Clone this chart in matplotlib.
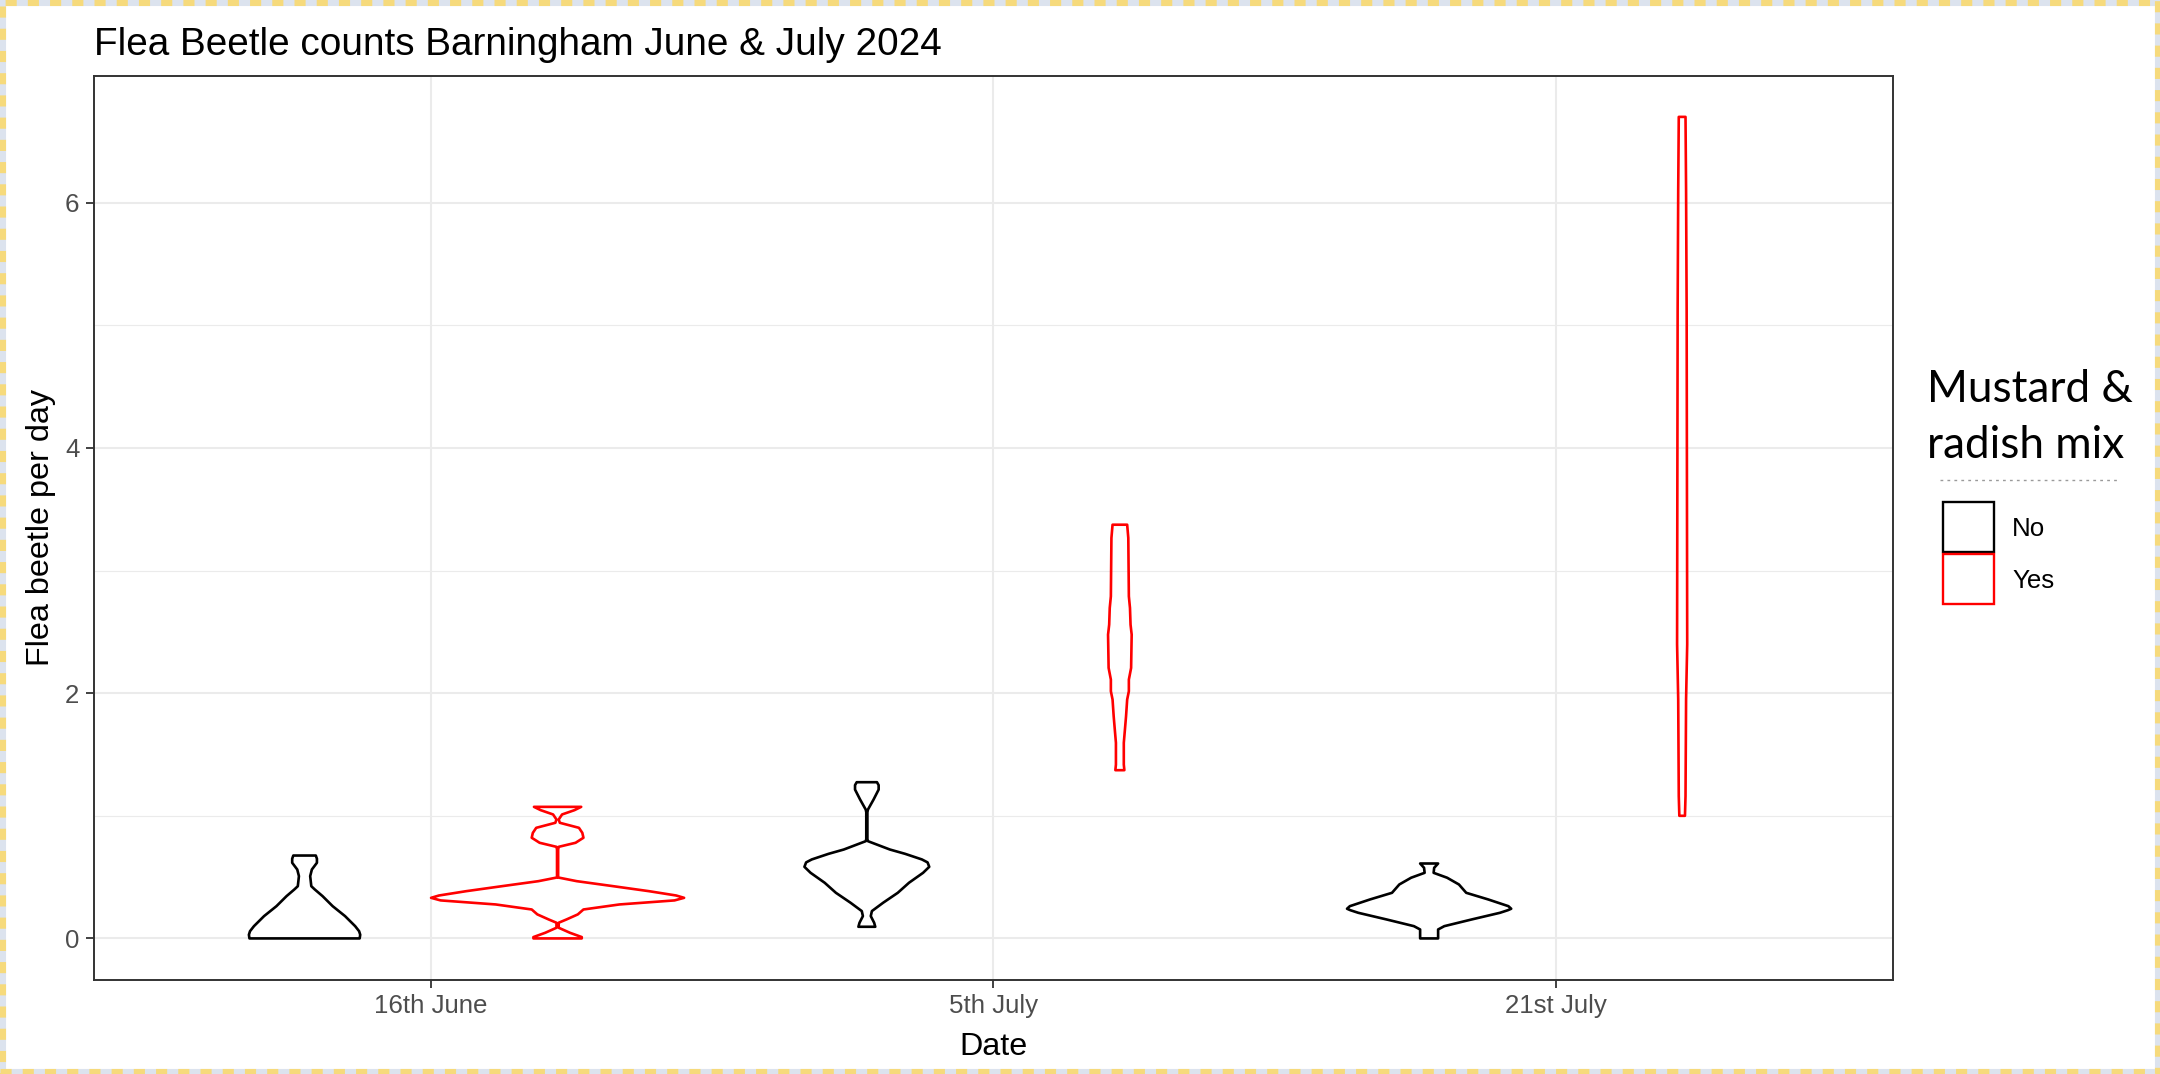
import matplotlib
matplotlib.use("Agg")
import matplotlib.pyplot as plt
from matplotlib.patches import Rectangle
from matplotlib.lines import Line2D
import numpy as np

# ---------------- data ----------------
dates = ["16th June", "5th July", "21st July"]
groups = ["No", "Yes"]
group_colors = {"No": "black", "Yes": "#FF0000"}
legend_title = ["Mustard &", "radish mix"]

# violin profiles: y levels and half-widths (x-axis units)
june16_no_y = [0.0, 0.030, 0.059, 0.100, 0.182, 0.263, 0.345, 0.400, 0.426, 0.508, 0.562, 0.617, 0.650, 0.676]
june16_no_w = [0.098, 0.099, 0.097, 0.090, 0.072, 0.050, 0.032, 0.018, 0.012, 0.010, 0.013, 0.022, 0.022, 0.020]

june16_yes_y = [0.0, 0.011, 0.046, 0.087, 0.128, 0.155, 0.196, 0.236, 0.277, 0.310, 0.331,
                0.350, 0.385, 0.426, 0.467, 0.497, 0.725, 0.747, 0.780, 0.821, 0.861,
                0.902, 0.943, 0.970, 1.011, 1.046, 1.073]
june16_yes_w = [0.043, 0.043, 0.022, 0.002, 0.002, 0.016, 0.036, 0.046, 0.110, 0.208, 0.225,
                0.211, 0.163, 0.099, 0.034, 0.001, 0.001, 0.002, 0.032, 0.046, 0.044,
                0.038, 0.004, 0.002, 0.008, 0.030, 0.042]

july5_no_y = [0.095, 0.128, 0.182, 0.223, 0.291, 0.372, 0.454, 0.535, 0.584, 0.620, 0.644, 0.690, 0.725,
              0.793, 0.810, 1.030, 1.051, 1.133, 1.214, 1.250, 1.274]
july5_no_w = [0.015, 0.013, 0.007, 0.009, 0.029, 0.055, 0.075, 0.100, 0.111, 0.108, 0.098, 0.068, 0.041,
              0.002, 0.001, 0.001, 0.002, 0.012, 0.021, 0.021, 0.018]

july5_yes_y = [1.372, 1.418, 1.595, 1.703, 1.812, 1.948, 2.016, 2.111, 2.206, 2.478, 2.559,
               2.695, 2.790, 3.266, 3.374]
july5_yes_w = [0.008, 0.007, 0.007, 0.009, 0.011, 0.013, 0.016, 0.016, 0.020, 0.021, 0.019,
               0.018, 0.016, 0.015, 0.013]

july21_no_y = [0.0, 0.073, 0.100, 0.155, 0.209, 0.230, 0.242, 0.263, 0.318, 0.372, 0.440, 0.495,
               0.535, 0.576, 0.611]
july21_no_w = [0.016, 0.016, 0.027, 0.076, 0.126, 0.140, 0.146, 0.141, 0.105, 0.066, 0.053, 0.032,
               0.008, 0.009, 0.016]

july21_yes_y = [1.0, 1.16, 1.95, 2.40, 5.13, 6.10, 6.70]
july21_yes_w = [0.005, 0.006, 0.007, 0.009, 0.008, 0.007, 0.006]

violins = [
    ("16th June", "No", june16_no_y, june16_no_w),
    ("16th June", "Yes", june16_yes_y, june16_yes_w),
    ("5th July", "No", july5_no_y, july5_no_w),
    ("5th July", "Yes", july5_yes_y, july5_yes_w),
    ("21st July", "No", july21_no_y, july21_no_w),
    ("21st July", "Yes", july21_yes_y, july21_yes_w),
]

yticks = [0, 2, 4, 6]
yminor = [1, 3, 5]

# ---------------- figure ----------------
W, H = 2160, 1074
fig = plt.figure(figsize=(W / 100, H / 100), dpi=100)
fig.patch.set_facecolor("white")

def fx(px):
    return px / W

def fy(py):
    return 1 - py / H

ax = fig.add_axes([fx(93.7), fy(979.5), fx(1893) - fx(93.7), fy(75.8) - fy(979.5)])
ax.set_xlim(0.4, 3.6)
ax.set_ylim(-0.335, 7.035)

grid_c = "#EBEBEB"
for i in range(len(dates)):
    ax.axvline(i + 1, color=grid_c, lw=1.5, zorder=0)
for v in yticks:
    ax.axhline(v, color=grid_c, lw=1.5, zorder=0)
for v in yminor:
    ax.axhline(v, color=grid_c, lw=0.8, zorder=0)

dodge = 0.225
for date, grp, yv, wv in violins:
    c = dates.index(date) + 1 + (-dodge if grp == "No" else dodge)
    yv = np.asarray(yv)
    wv = np.asarray(wv)
    xs = np.concatenate([c - wv, (c + wv)[::-1]])
    ys = np.concatenate([yv, yv[::-1]])
    ax.fill(xs, ys, facecolor="none", edgecolor=group_colors[grp], lw=1.9,
            joinstyle="round", zorder=3)

ax.set_xticks(range(1, len(dates) + 1))
ax.set_xticklabels(dates)
ax.set_yticks(yticks)
ax.set_yticklabels([str(v) for v in yticks])
ax.tick_params(axis="both", length=5.8, width=1.3, color="#333333",
               labelcolor="#4D4D4D", labelsize=18.6, pad=4.5)
for lab in ax.get_xticklabels() + ax.get_yticklabels():
    lab.set_fontfamily("Liberation Sans")
for s in ax.spines.values():
    s.set_color("#333333")
    s.set_linewidth(1.4)

ax.set_xlabel("Date", fontsize=23.3, family="Liberation Sans", color="black")
ax.set_ylabel("Flea beetle per day", fontsize=23.3, family="Liberation Sans", color="black")
ax.xaxis.set_label_coords(0.5, (979.5 - 1047) / 903.7)
ax.xaxis.label.set_va("center")
ax.yaxis.set_label_coords((41 - 93.7) / 1799.3, 0.5)
ax.yaxis.label.set_va("center")

fig.text(fx(93.7), fy(55), "Flea Beetle counts Barningham June & July 2024",
         fontsize=27.9, family="Liberation Sans", color="black", va="baseline", ha="left")

# legend (manual)
fig.text(fx(1927), fy(401.7), legend_title[0], fontsize=31.8, family="Lato",
         va="baseline", ha="left", color="black")
fig.text(fx(1927), fy(458.3), legend_title[1], fontsize=31.8, family="Lato",
         va="baseline", ha="left", color="black")
fig.add_artist(Line2D([fx(1940), fx(2117)], [fy(480), fy(480)], color="#9A9A9A",
                      lw=1.0, dashes=(2, 3)))
key_tops = [502, 554]
for grp, top in zip(groups, key_tops):
    fig.add_artist(Rectangle((fx(1943), fy(top + 50)), fx(51), 50 / H,
                             facecolor="none", edgecolor=group_colors[grp], lw=1.7))
    fig.text(fx(2012), fy(top + 27), grp, fontsize=18.6, family="Liberation Sans",
             va="center", ha="left", color="black")

# screenshot border
fig.add_artist(Rectangle((0, 0), 1, 1, transform=fig.transFigure, facecolor="none",
                         edgecolor="#DCE3EE", lw=8))
fig.add_artist(Rectangle((0, 0), 1, 1, transform=fig.transFigure, facecolor="none",
                         edgecolor="#F6DA7C", lw=8, linestyle=(0, (1, 1))))

fig.savefig("out.png", dpi=100)
